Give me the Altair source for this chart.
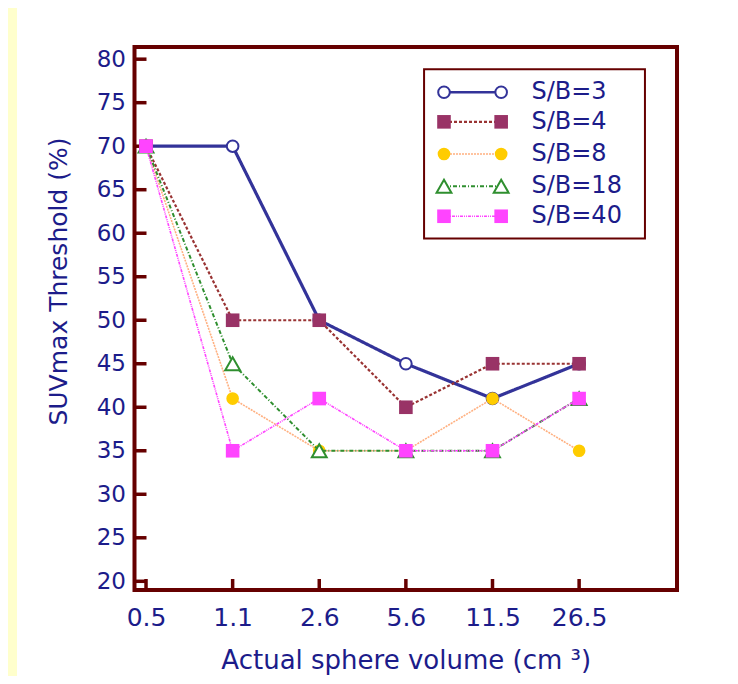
import altair as alt
import pandas as pd

# ---------------- data ----------------
volumes = ["0.5", "1.1", "2.6", "5.6", "11.5", "26.5"]
series_names = ["S/B=3", "S/B=4", "S/B=8", "S/B=18", "S/B=40"]
sb3 = [70, 70, 50, 45, 41, 45]
sb4 = [70, 50, 50, 40, 45, 45]
sb8 = [70, 41, 35, 35, 41, 35]
sb18 = [70, 45, 35, 35, 35, 41]
sb40 = [70, 35, 41, 35, 35, 41]
series_values = [sb3, sb4, sb8, sb18, sb40]
y_ticks = [20, 25, 30, 35, 40, 45, 50, 55, 60, 65, 70, 75, 80]

# ---------------- styles ----------------
FONT = "DejaVu Sans"
NAVY = "#1c1c8a"
FRAME = "#660000"
styles = [
    dict(line="#333399", lw=3.2, dash=[1, 0], shape="circle", fill="white", stroke="#333399", size=135, sw=2),
    dict(line="#993333", lw=2.2, dash=[3, 2], shape="square", fill="#993366", stroke="#993366", size=185, sw=0),
    dict(line="#ffb080", lw=1.6, dash=[2, 1], shape="circle", fill="#ffcc00", stroke="#ffcc00", size=160, sw=0),
    dict(line="#2f8f2f", lw=2, dash=[4, 2, 1, 2], shape="triangle-up", fill="white", stroke="#2f8f2f", size=220, sw=2),
    dict(line="#ff44ff", lw=1.6, dash=[3, 1, 1, 1, 1, 1], shape="square", fill="#ff44ff", stroke="#ff44ff", size=185, sw=0),
]

# legend layout (in data units)
leg_rows = [76.2, 72.8, 69.1, 65.4, 61.95]
leg_x0, leg_x1, leg_tx = 3.44, 4.10, 4.45
leg_box = dict(x=3.21, x2=5.76, y=78.85, y2=59.4)

W, H = 542.5, 543
x_scale = alt.Scale(domain=[-0.133, 6.13], nice=False, zero=False)
y_scale = alt.Scale(domain=[19.0, 81.4], nice=False, zero=False)

label_expr = "[" + ",".join("'%s'" % v for v in volumes) + "][datum.value]"
x_axis = alt.Axis(
    values=list(range(len(volumes))), labelExpr=label_expr, grid=False, domain=False,
    ticks=False, tickSize=0, labelFont=FONT, labelFontSize=25, labelColor=NAVY,
    labelBaseline="alphabetic", labelPadding=35, labelAlign="center",
    title="Actual sphere volume (cm ³)", titleFont=FONT, titleFontSize=26,
    titleFontWeight="normal", titleColor=NAVY, titleBaseline="alphabetic", titleY=78,
    zindex=1,
)
y_axis = alt.Axis(
    values=y_ticks, grid=False, domain=False, ticks=False, tickSize=0,
    labelFont=FONT, labelFontSize=23, labelColor=NAVY, labelPadding=9,
    labelBaseline="middle",
    title="SUVmax Threshold (%)", titleFont=FONT, titleFontSize=25,
    titleFontWeight="normal", titleColor=NAVY, titleAngle=270,
    titleX=-76.5, titleY=234, titleAlign="center", titleBaseline="middle",
    zindex=1,
)

X = alt.X("idx:Q", scale=x_scale, axis=x_axis)
Y = alt.Y("value:Q", scale=y_scale, axis=y_axis)

layers = []

# pale yellow strip on the left of the slide
layers.append(
    alt.Chart(pd.DataFrame({"a": [0]})).mark_rect(fill="#ffffcc").encode(
        x=alt.value(-126.5), x2=alt.value(-117.5), y=alt.value(-39), y2=alt.value(H + 86)
    )
)

# inward ticks
yt_df = pd.DataFrame({"value": y_ticks})
layers.append(
    alt.Chart(yt_df).mark_rule(color=FRAME, strokeWidth=3.5).encode(
        y=Y, x=alt.value(0), x2=alt.value(12)
    )
)
xt_df = pd.DataFrame({"idx": list(range(len(volumes)))})
layers.append(
    alt.Chart(xt_df).mark_rule(color=FRAME, strokeWidth=3.5).encode(
        x=X, y=alt.value(H), y2=alt.value(H - 11)
    )
)

# series lines + markers
for name, vals, st in zip(series_names, series_values, styles):
    df = pd.DataFrame({"idx": list(range(len(vals))), "value": vals, "series": name})
    layers.append(
        alt.Chart(df).mark_line(color=st["line"], strokeWidth=st["lw"], strokeDash=st["dash"]).encode(x=X, y=Y)
    )
    layers.append(
        alt.Chart(df).mark_point(
            shape=st["shape"], filled=True, fill=st["fill"], stroke=st["stroke"],
            strokeWidth=st["sw"], size=st["size"], opacity=1
        ).encode(x=X, y=Y)
    )

# frame around the plot area
layers.append(
    alt.Chart(pd.DataFrame({"a": [0]})).mark_rect(fill=None, stroke=FRAME, strokeWidth=4).encode(
        x=alt.value(0), x2=alt.value(W), y=alt.value(0), y2=alt.value(H)
    )
)

# legend box
box_df = pd.DataFrame({"idx": [leg_box["x"]], "idx2": [leg_box["x2"]],
                       "value": [leg_box["y"]], "value2": [leg_box["y2"]]})
layers.append(
    alt.Chart(box_df).mark_rect(fill="white", stroke=FRAME, strokeWidth=2).encode(
        x=X, x2="idx2:Q", y=Y, y2="value2:Q"
    )
)
for name, ry, st in zip(series_names, leg_rows, styles):
    ldf = pd.DataFrame({"idx": [leg_x0, leg_x1], "value": [ry, ry]})
    layers.append(
        alt.Chart(ldf).mark_line(color=st["line"], strokeWidth=st["lw"] * 0.75 if st["lw"] > 2.5 else st["lw"],
                                 strokeDash=st["dash"]).encode(x=X, y=Y)
    )
    layers.append(
        alt.Chart(ldf).mark_point(
            shape=st["shape"], filled=True, fill=st["fill"], stroke=st["stroke"],
            strokeWidth=st["sw"], size=st["size"], opacity=1
        ).encode(x=X, y=Y)
    )
    tdf = pd.DataFrame({"idx": [leg_tx], "value": [ry], "label": [name]})
    layers.append(
        alt.Chart(tdf).mark_text(
            align="left", baseline="middle", font=FONT, fontSize=24, color=NAVY
        ).encode(x=X, y=Y, text="label:N")
    )

chart = alt.layer(*layers).properties(
    width=W, height=H,
    autosize=alt.AutoSizeParams(type="none"),
    padding={"left": 126.5, "top": 39, "right": 53, "bottom": 86},
    background="white",
).configure_view(stroke=None, fill=None)

chart.save("out.html", embed_options={"renderer": "svg", "actions": False})
